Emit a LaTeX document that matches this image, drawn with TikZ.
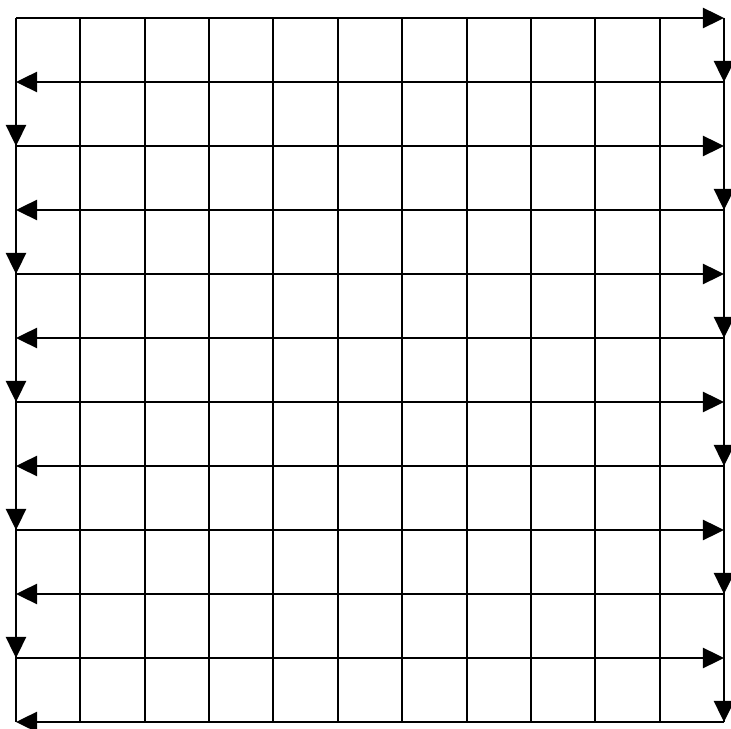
\documentclass[tikz,border=0pt]{standalone}
\usepackage{tikz}
\usetikzlibrary{arrows.meta}

\begin{document}
\begin{tikzpicture}[
    x=0.02cm, y=-0.02cm,
    gridline/.style={line width=1.1pt, draw=black},
    snake/.style={-{Triangle[length=12pt, width=11.5pt]}, line width=1.1pt, draw=black}
]
\useasboundingbox (0,0) rectangle (731,729);
% grid corner points
\foreach \i in {0,...,11} {
  \coordinate (top\i) at ({16+\i*708/11},18);
  \coordinate (bot\i) at ({16+\i*708/11},722);
  \coordinate (lt\i) at (16,{18+\i*64});
  \coordinate (rt\i) at (724,{18+\i*64});
}
% columns
\foreach \i in {0,...,11}
  \draw[gridline] (top\i) -- (bot\i);
% rows, running back and forth
\foreach \i in {0,2,...,10}
  \draw[snake] (lt\i) -- (rt\i);
\foreach \i in {1,3,...,11}
  \draw[snake] (rt\i) -- (lt\i);
% turns
\foreach \i/\j in {0/1,2/3,4/5,6/7,8/9,10/11}
  \draw[snake] (rt\i) -- (rt\j);
\foreach \i/\j in {1/2,3/4,5/6,7/8,9/10}
  \draw[snake] (lt\i) -- (lt\j);
\end{tikzpicture}
\end{document}
